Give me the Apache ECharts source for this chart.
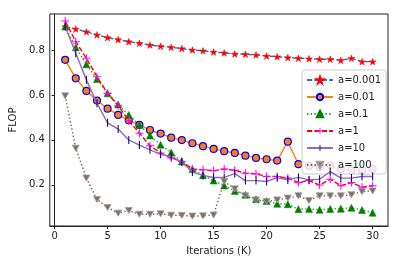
<!DOCTYPE html>
<html>
<head>
<meta charset="utf-8">
<script src="https://cdn.jsdelivr.net/npm/echarts@6/dist/echarts.min.js"></script>
<style>
html,body{margin:0;padding:0;background:#fff;}
#chart{width:399px;height:266px;}
</style>
</head>
<body>
<div id="chart"></div>
<script>
var iterations = [1,2,3,4,5,6,7,8,9,10,11,12,13,14,15,16,17,18,19,20,21,22,23,24,25,26,27,28,29,30];
var xTicks = [0,5,10,15,20,25,30];
var yTicks = [0.2,0.4,0.6,0.8];
var seriesNames = ['a=0.001','a=0.01','a=0.1','a=1','a=10','a=100'];

var a0001 = [0.904,0.893,0.881,0.867,0.855,0.846,0.837,0.830,0.822,0.816,0.812,0.806,0.800,0.796,0.791,0.787,0.782,0.781,0.778,0.773,0.770,0.766,0.763,0.761,0.759,0.759,0.754,0.763,0.748,0.748];
var a001 = [0.756,0.674,0.618,0.575,0.539,0.511,0.487,0.467,0.444,0.428,0.410,0.399,0.385,0.372,0.360,0.350,0.342,0.330,0.320,0.314,0.308,0.392,0.292,0.284,0.280,0.286,0.270,0.265,0.264,0.271];
var a01 = [0.904,0.812,0.736,0.671,0.607,0.558,0.511,0.466,0.420,0.378,0.344,0.304,0.270,0.243,0.219,0.197,0.173,0.156,0.136,0.128,0.116,0.114,0.092,0.093,0.089,0.093,0.094,0.098,0.088,0.076];
var a1 = [0.929,0.837,0.763,0.681,0.607,0.552,0.486,0.430,0.374,0.342,0.320,0.304,0.270,0.267,0.263,0.270,0.265,0.252,0.249,0.237,0.237,0.230,0.210,0.219,0.199,0.225,0.196,0.210,0.190,0.196];
var a10 = [0.904,0.785,0.667,0.563,0.476,0.448,0.400,0.377,0.356,0.336,0.326,0.302,0.257,0.242,0.233,0.233,0.250,0.219,0.219,0.215,0.232,0.222,0.233,0.222,0.225,0.259,0.230,0.230,0.237,0.237];
var a100 = [0.596,0.363,0.230,0.135,0.099,0.074,0.086,0.069,0.069,0.071,0.065,0.064,0.061,0.062,0.066,0.216,0.182,0.151,0.133,0.126,0.133,0.141,0.151,0.130,0.151,0.151,0.151,0.156,0.170,0.173];

var STAR = 'path://M0,-1L0.2234,-0.3074L0.9511,-0.309L0.3614,0.1174L0.5878,0.809L0,0.38L-0.5878,0.809L-0.3614,0.1174L-0.9511,-0.309L-0.2234,-0.3074Z';
var PLUS = 'path://M-1,-0.13H1V0.13H-1Z M-0.13,-1H0.13V1H-0.13Z';
var VBAR = 'path://M-1,-1M1,1M-0.13,-1H0.13V1H-0.13Z';
var TRIDOWN = 'path://M-1,-0.87L1,-0.87L0,0.87Z';

function pairs(arr){ return arr.map(function(v,i){ return [iterations[i], v]; }); }

var DASH = [5.2,2.2];
var DOT = [1.4,2.3];

var styles = [
  {color:'#1f77b4', type:DASH, symbol:STAR, size:7, fill:'#ff0000', edge:'#ff0000', bw:0.5},
  {color:'#ff7f0e', type:'solid', symbol:'circle', size:7, fill:'#ff7f0e', edge:'#0000ff', bw:1.2},
  {color:'#2ca02c', type:DOT, symbol:'triangle', size:7, fill:'#008000', edge:'#008000', bw:0.5},
  {color:'#ff0000', type:DASH, symbol:PLUS, size:8, fill:'#ff00ff', edge:'#ff00ff', bw:0},
  {color:'#9467bd', type:'solid', symbol:VBAR, size:8, fill:'#000080', edge:'#000080', bw:0},
  {color:'#8c564b', type:DOT, symbol:TRIDOWN, size:7, fill:'#7f6f6a', edge:'#a0a0a0', bw:0.8}
];
var dataSets = [a0001, a001, a01, a1, a10, a100];

var series = seriesNames.map(function(name, k){
  var s = styles[k];
  return {
    name: name,
    type: 'line',
    data: pairs(dataSets[k]),
    symbol: s.symbol,
    symbolSize: s.size,
    symbolKeepAspect: true,
    showAllSymbol: true,
    animation: false,
    lineStyle: {color: s.color, width: 1.4, type: s.type},
    itemStyle: {color: s.fill, borderColor: s.edge, borderWidth: s.bw},
    z: 2 + k
  };
});

var chart = echarts.init(document.getElementById('chart'), null, {renderer:'canvas'});
chart.setOption({
  animation: false,
  backgroundColor: '#fff',
  textStyle: {fontFamily: 'DejaVu Sans'},
  grid: {left: 45, right: 11, top: 14, bottom: 40, show: true, borderColor: '#222', borderWidth: 1, backgroundColor: 'transparent'},
  legend: {
    orient: 'vertical',
    left: 302, top: 70,
    itemWidth: 26, itemHeight: 8, itemGap: 7,
    backgroundColor: 'rgba(255,255,255,0.85)',
    borderColor: '#cccccc', borderWidth: 1, borderRadius: 3,
    padding: [5, 5, 4, 4],
    textStyle: {fontFamily: 'DejaVu Sans', fontSize: 10, color: '#222'},
    data: seriesNames
  },
  xAxis: {
    type: 'value', min: -0.45, max: 31.45,
    name: 'Iterations (K)', nameLocation: 'middle', nameGap: 20,
    nameTextStyle: {fontFamily: 'DejaVu Sans', fontSize: 10, color: '#222'},
    axisLine: {show: true, lineStyle: {color: '#222', width: 1}},
    axisTick: {show: true, length: 3, lineStyle: {color: '#222'}, customValues: xTicks},
    axisLabel: {fontFamily: 'DejaVu Sans', fontSize: 10, color: '#222', margin: 5, customValues: xTicks},
    splitLine: {show: false}
  },
  yAxis: {
    type: 'value', min: 0.017, max: 0.96,
    name: 'FLOP', nameLocation: 'middle', nameRotate: 90, nameGap: 28,
    nameTextStyle: {fontFamily: 'DejaVu Sans', fontSize: 10, color: '#222'},
    axisLine: {show: true, lineStyle: {color: '#222', width: 1}},
    axisTick: {show: true, length: 3, lineStyle: {color: '#222'}, customValues: yTicks},
    axisLabel: {fontFamily: 'DejaVu Sans', fontSize: 10, color: '#222', margin: 5, customValues: yTicks, formatter: function(v){ return v.toFixed(1); }},
    splitLine: {show: false}
  },
  series: series
});
</script>
</body>
</html>
